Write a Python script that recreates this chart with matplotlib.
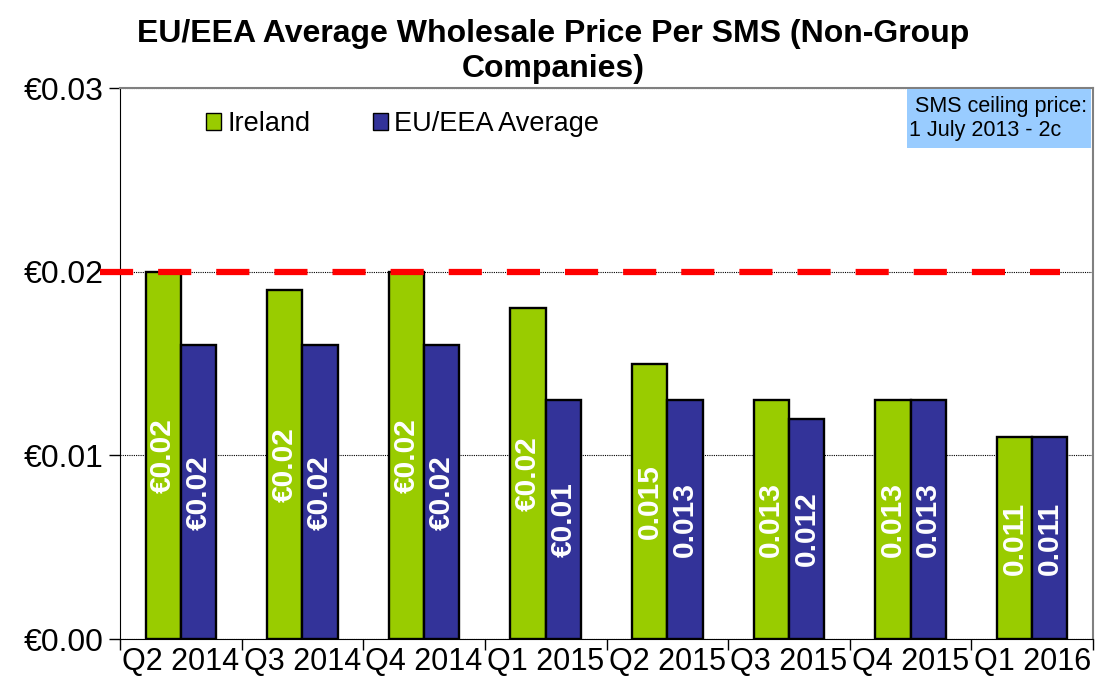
import numpy as np
import matplotlib.pyplot as plt
from matplotlib.patches import Patch, Rectangle

plt.rcParams['font.family'] = ['Liberation Sans', 'DejaVu Sans']

# data
quarters = ['Q2 2014', 'Q3 2014', 'Q4 2014', 'Q1 2015',
            'Q2 2015', 'Q3 2015', 'Q4 2015', 'Q1 2016']
ireland = [0.020, 0.019, 0.020, 0.018, 0.015, 0.013, 0.013, 0.011]
eu_avg = [0.016, 0.016, 0.016, 0.013, 0.013, 0.012, 0.013, 0.011]
ireland_labels = ['€0.02', '€0.02', '€0.02', '€0.02', '0.015', '0.013', '0.013', '0.011']
eu_labels = ['€0.02', '€0.02', '€0.02', '€0.01', '0.013', '0.012', '0.013', '0.011']
ceiling = 0.02

green = '#99CC00'
blue = '#333399'

fig = plt.figure(figsize=(10.96, 6.88), dpi=100)
ax = fig.add_axes([0.1095, 0.0712, 0.8878, 0.8008])

x = np.arange(len(quarters))
w = 0.29
b1 = ax.bar(x - w/2, ireland, w, color=green, edgecolor='black', linewidth=1.7, zorder=3)
b2 = ax.bar(x + w/2, eu_avg, w, color=blue, edgecolor='black', linewidth=1.7, zorder=3)

# data labels, rotated, centred in bars
for rect, lab in zip(b1, ireland_labels):
    ax.text(rect.get_x() + rect.get_width()/2, rect.get_height()/2, lab,
            rotation=90, ha='center', va='center', color='white',
            fontsize=21.5, fontweight='bold', zorder=4)
for rect, lab in zip(b2, eu_labels):
    ax.text(rect.get_x() + rect.get_width()/2, rect.get_height()/2, lab,
            rotation=90, ha='center', va='center', color='white',
            fontsize=21.5, fontweight='bold', zorder=4)

# ceiling price line
ax.plot([-0.665, 7.23], [ceiling, ceiling], color='red', linewidth=4.5,
        dashes=(5.3, 4), clip_on=False, zorder=5)

ax.set_xlim(-0.5, 7.5)
ax.set_ylim(0, 0.03)
ax.set_yticks([0, 0.01, 0.02, 0.03])
ax.set_yticklabels(['€0.00', '€0.01', '€0.02', '€0.03'], fontsize=23)
ax.yaxis.grid(True, color='black', linestyle=(0, (1, 1)), linewidth=0.8, zorder=0)
ax.tick_params(axis='y', length=8, width=1, direction='out', pad=4)

ax.set_xticks(x)
ax.set_xticklabels(quarters, fontsize=22)
ax.tick_params(axis='x', which='major', length=0, pad=6)
ax.set_xticks(np.arange(-0.5, 8, 1), minor=True)
ax.tick_params(axis='x', which='minor', length=8, width=1, direction='out')

for s in ['top', 'right']:
    ax.spines[s].set_color('#808080')
    ax.spines[s].set_linewidth(1.5)
ax.spines['left'].set_color('black')
ax.spines['bottom'].set_color('black')

handles = [Patch(facecolor=green, edgecolor='black'),
           Patch(facecolor=blue, edgecolor='black')]
ax.legend(handles, ['Ireland', 'EU/EEA Average'], loc='center left',
          bbox_to_anchor=(0.063, 0.935), ncol=2, frameon=False, fontsize=19.5,
          handlelength=0.55, handleheight=0.6, handletextpad=0.25, columnspacing=2.3)

# ceiling price note box
ax.add_patch(Rectangle((0.809, 0.891), 0.189, 0.108, transform=ax.transAxes,
                       facecolor='#99CCFF', edgecolor='none', clip_on=False, zorder=6))
ax.text(0.811, 0.945, ' SMS ceiling price:\n1 July 2013 - 2c', transform=ax.transAxes,
        ha='left', va='center', fontsize=15.5, linespacing=1.2, zorder=7)

fig.text(0.505, 0.972, 'EU/EEA Average Wholesale Price Per SMS (Non-Group\nCompanies)',
         ha='center', va='top', fontsize=23, fontweight='bold', linespacing=1.22)

fig.savefig('out.png', dpi=100)
